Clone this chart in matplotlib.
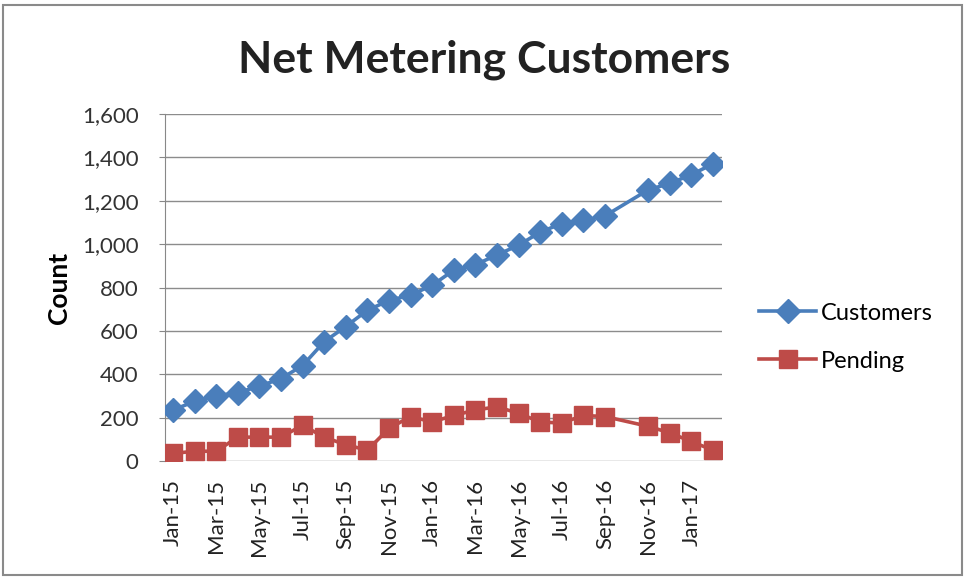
import matplotlib
matplotlib.use("Agg")
import matplotlib.pyplot as plt
from matplotlib.patches import Rectangle

# monthly data, Jan-15 .. Feb-17 (Oct-16 has no reading)
MONTHS = ["Jan-15", "Feb-15", "Mar-15", "Apr-15", "May-15", "Jun-15",
          "Jul-15", "Aug-15", "Sep-15", "Oct-15", "Nov-15", "Dec-15",
          "Jan-16", "Feb-16", "Mar-16", "Apr-16", "May-16", "Jun-16",
          "Jul-16", "Aug-16", "Sep-16", "Oct-16", "Nov-16", "Dec-16",
          "Jan-17", "Feb-17"]
MISSING = ["Oct-16"]
CUSTOMERS = [235, 275, 300, 315, 345, 380, 440, 550, 620, 695, 740, 765,
             810, 880, 905, 950, 995, 1055, 1095, 1110, 1130,
             1250, 1280, 1320, 1370]
PENDING = [35, 45, 45, 110, 110, 110, 165, 110, 75, 50, 150, 205,
           180, 210, 235, 250, 220, 180, 175, 210, 205,
           160, 130, 90, 50]

BLUE = "#4a7ebb"
RED = "#be4b48"
FONT = "Lato"

x_idx = [i for i, m in enumerate(MONTHS) if m not in MISSING]

fig = plt.figure(figsize=(9.64, 5.77), dpi=100)
ax = fig.add_axes([165 / 964, 1 - 461 / 577, (722 - 165) / 964, (461 - 114) / 577])

ax.plot(x_idx, CUSTOMERS, color=BLUE, lw=2.6, marker="D", ms=12.5,
        mec=BLUE, mfc=BLUE, label="Customers", zorder=3)
ax.plot(x_idx, PENDING, color=RED, lw=2.6, marker="s", ms=13,
        mec=RED, mfc=RED, label="Pending", zorder=3)

ax.set_xlim(-0.37, len(MONTHS) - 1 + 0.42)
ax.set_ylim(0, 1600)
ax.set_yticks(range(0, 1601, 200))
ax.set_yticklabels([f"{v:,}" for v in range(0, 1601, 200)],
                   fontsize=16, family=FONT, color="#333333")
ax.set_xticks(range(0, len(MONTHS), 2))
ax.set_xticklabels(MONTHS[::2], rotation=90, fontsize=16, family=FONT,
                   color="#222222")
ax.tick_params(axis="x", which="both", length=0, pad=13)
ax.tick_params(axis="y", length=4, color="#888888", pad=15)

ax.grid(axis="y", color="#8c8c8c", lw=1)
ax.set_axisbelow(True)
for side in ["top", "right", "bottom"]:
    ax.spines[side].set_visible(False)
ax.spines["left"].set_color("#888888")

ax.set_ylabel("Count", fontsize=19, fontweight="bold", family=FONT,
              labelpad=8)

fig.text(0.502, 1 - 60 / 577, "Net Metering Customers", ha="center",
         va="center", fontsize=32, fontweight="bold", family=FONT,
         color="#222222")

ax.legend(loc="center left", bbox_to_anchor=(1.067, 0.357), frameon=False,
          prop={"family": FONT, "size": 17}, handlelength=2.4,
          labelspacing=1.15, handletextpad=0.2, borderaxespad=0, borderpad=0)

fig.patches.append(Rectangle((3 / 964, 2 / 577), 959 / 964, 570 / 577,
                             transform=fig.transFigure, fill=False,
                             ec="#8a8a8a", lw=1.5))

fig.savefig("out.png", dpi=100)
